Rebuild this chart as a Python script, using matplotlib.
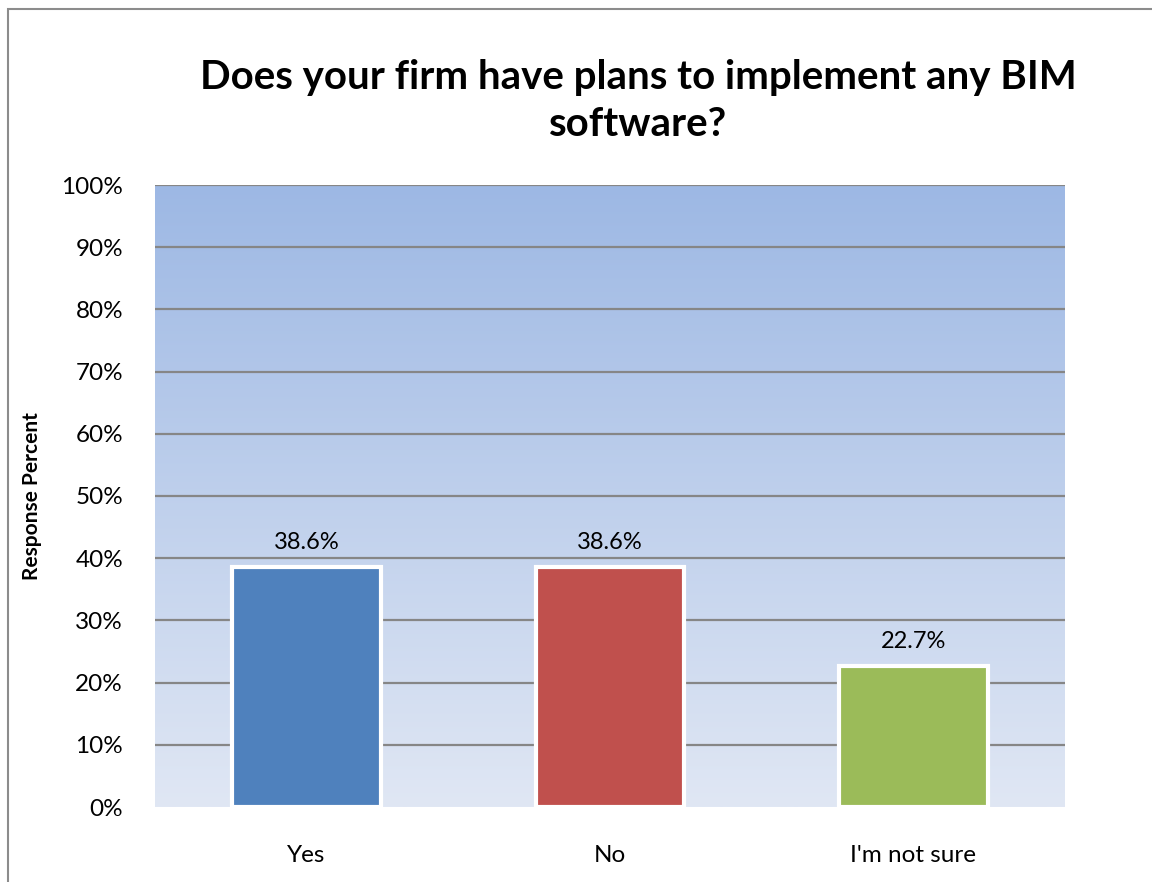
import matplotlib
matplotlib.use("Agg")
import matplotlib.pyplot as plt
import numpy as np
from matplotlib.colors import LinearSegmentedColormap
from matplotlib.patches import Rectangle

categories = ["Yes", "No", "I'm not sure"]
values = [38.6, 38.6, 22.7]
labels = ["38.6%", "38.6%", "22.7%"]
colors = ["#4f81bd", "#c0504d", "#9bbb59"]
yticks = [0, 10, 20, 30, 40, 50, 60, 70, 80, 90, 100]
yticklabels = [f"{t}%" for t in yticks]

plt.rcParams['font.family'] = ['Lato', 'DejaVu Sans']

fig = plt.figure(figsize=(11.52, 8.82), dpi=100)
W, H = 1152, 882
ax = fig.add_axes([155 / W, 1 - 807 / H, (1065 - 155) / W, (807 - 185) / H])

# gradient background
cmap = LinearSegmentedColormap.from_list("bg", ["#e0e7f4", "#9db8e4"])
grad = np.linspace(0, 1, 256).reshape(-1, 1)
ax.imshow(grad, cmap=cmap, aspect='auto', extent=[-0.5, 2.5, 0, 100],
          origin='lower', zorder=0)

ax.set_xlim(-0.5, 2.5)
ax.set_ylim(0, 100)

for t in yticks[1:]:
    ax.axhline(t, color="#868686", lw=1.6, zorder=1)

x = np.arange(len(categories))
bars = ax.bar(x, values, width=0.49, color=colors, edgecolor="white",
              linewidth=3.0, zorder=2, clip_on=False)

for xi, v, lab in zip(x, values, labels):
    ax.text(xi, v + 2.2, lab, ha='center', va='bottom', fontsize=17, color='black')

ax.set_yticks(yticks)
ax.set_yticklabels(yticklabels, fontsize=17.5)
ax.set_xticks(x)
ax.set_xticklabels(categories, fontsize=17.5)
ax.tick_params(axis='both', length=0)
ax.tick_params(axis='y', pad=23)
ax.tick_params(axis='x', pad=27)
for s in ax.spines.values():
    s.set_visible(False)

ax.set_ylabel("Response Percent", fontsize=15, fontweight='bold')
ax.yaxis.set_label_coords(-(155 - 42) / (1065 - 155), 0.5)

fig.text(638 / W, 1 - 78 / H, "Does your firm have plans to implement any BIM",
         ha='center', va='center', fontsize=29, fontweight='bold')
fig.text(638 / W, 1 - 125 / H, "software?",
         ha='center', va='center', fontsize=29, fontweight='bold')

# outer chart border
fig.patches.append(Rectangle((8 / W, -0.1), 1.2, 1 - 9 / H + 0.1,
                             transform=fig.transFigure, fill=False,
                             edgecolor="#8c8c8c", lw=1.5))

fig.savefig("out.png", dpi=100)
